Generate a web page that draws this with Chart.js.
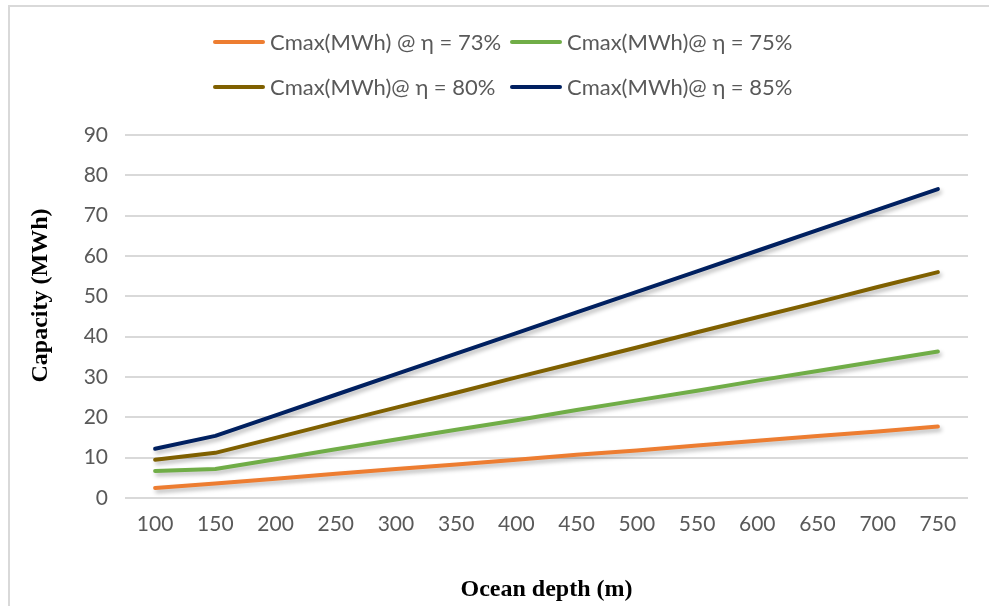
<!DOCTYPE html>
<html>
<head>
<meta charset="utf-8">
<script src="https://cdn.jsdelivr.net/npm/chart.js@4.4.0/dist/chart.umd.min.js"></script>
<style>
  html, body { margin: 0; padding: 0; background: #ffffff; }
  #wrap { position: relative; width: 989px; height: 606px; overflow: hidden; }
  #frame { position: absolute; left: 8px; top: 5px; width: 1000px; height: 620px; border: 2px solid #d9d9d9; box-sizing: border-box; }
  #c { position: absolute; left: 0; top: 0; }
  .lg { position: absolute; display: flex; align-items: center; font-family: Lato, "Open Sans", sans-serif; font-size: 22px; color: #595959; white-space: nowrap; line-height: 1; }
  .lg span.sw { display: inline-block; width: 52px; height: 4px; border-radius: 2px; margin-right: 5px; }
</style>
</head>
<body>
<div id="wrap">
  <div id="frame"></div>
  <canvas id="c" width="989" height="606"></canvas>
  <div id="legend"></div>
</div>
<script>
const depths = ["100","150","200","250","300","350","400","450","500","550","600","650","700","750"];
const eta73 = [2.5, 3.6, 4.8, 6.0, 7.2, 8.3, 9.5, 10.7, 11.8, 13.0, 14.2, 15.4, 16.5, 17.7];
const eta75 = [6.7, 7.2, 9.6, 12.1, 14.5, 16.9, 19.3, 21.8, 24.2, 26.6, 29.1, 31.5, 33.9, 36.3];
const eta80 = [9.5, 11.2, 14.9, 18.7, 22.4, 26.1, 29.9, 33.6, 37.3, 41.1, 44.8, 48.5, 52.3, 56.0];
const eta85 = [12.2, 15.4, 20.5, 25.6, 30.7, 35.8, 40.9, 46.0, 51.1, 56.2, 61.3, 66.4, 71.5, 76.6];
const seriesLabels = ["Cmax(MWh) @ η = 73%", "Cmax(MWh)@ η = 75%", "Cmax(MWh)@ η = 80%", "Cmax(MWh)@ η = 85%"];
const seriesColors = ["#ED7D31", "#70AD47", "#7F6000", "#002060"];
const yTicks = [0, 10, 20, 30, 40, 50, 60, 70, 80, 90];

const seriesData = [eta73, eta75, eta80, eta85];

const shadowPlugin = {
  id: 'lineShadow',
  beforeDatasetDraw(chart) {
    const ctx = chart.ctx;
    ctx.save();
    ctx.shadowColor = 'rgba(0,0,0,0.28)';
    ctx.shadowBlur = 4;
    ctx.shadowOffsetX = 2;
    ctx.shadowOffsetY = 3;
  },
  afterDatasetDraw(chart) {
    chart.ctx.restore();
  }
};

const chart = new Chart(document.getElementById('c'), {
  type: 'line',
  data: {
    labels: depths,
    datasets: seriesData.map((d, i) => ({
      label: seriesLabels[i],
      data: d,
      borderColor: seriesColors[i],
      backgroundColor: seriesColors[i],
      borderWidth: 4,
      pointRadius: 0,
      tension: 0,
      borderCapStyle: 'round',
      borderJoinStyle: 'round'
    }))
  },
  plugins: [shadowPlugin],
  options: {
    responsive: false,
    animation: false,
    devicePixelRatio: 1,
    layout: { padding: { left: 8, right: 21, top: 135, bottom: 2 } },
    plugins: {
      legend: { display: false },
      tooltip: { enabled: false }
    },
    scales: {
      x: {
        type: 'category',
        offset: true,
        grid: { display: false, drawTicks: false },
        border: { display: false },
        ticks: { color: '#595959', font: { family: 'Lato', size: 21 }, padding: 14, maxRotation: 0, autoSkip: false },
        title: { display: true, text: 'Ocean depth (m)', color: '#000000', font: { family: 'Liberation Serif', size: 24, weight: 'bold' }, padding: { top: 24, bottom: 0 } }
      },
      y: {
        min: 0, max: 90,
        afterBuildTicks(scale) { scale.ticks = yTicks.map(v => ({ value: v })); },
        grid: { color: '#d9d9d9', lineWidth: 2, drawTicks: false },
        border: { display: false },
        ticks: { color: '#595959', font: { family: 'Lato', size: 21 }, padding: 17 },
        title: { display: true, text: '\u00A0\u00A0\u00A0\u00A0\u00A0\u00A0\u00A0Capacity (MWh)', color: '#000000', font: { family: 'Liberation Serif', size: 24, weight: 'bold' }, padding: { top: 18, bottom: 0 } },
        afterFit(scale) { scale.width = 117; }
      }
    }
  }
});

// HTML legend built from the chart datasets
const legendPos = [[213, 43], [510, 43], [213, 88], [510, 88]];
const lg = document.getElementById('legend');
chart.data.datasets.forEach((ds, i) => {
  const item = document.createElement('div');
  item.className = 'lg';
  item.style.left = legendPos[i][0] + 'px';
  item.style.top = (legendPos[i][1] - 13) + 'px';
  item.style.height = '24px';
  const sw = document.createElement('span');
  sw.className = 'sw';
  sw.style.background = ds.borderColor;
  const tx = document.createElement('span');
  tx.textContent = ds.label;
  item.appendChild(sw);
  item.appendChild(tx);
  lg.appendChild(item);
});
</script>
</body>
</html>
